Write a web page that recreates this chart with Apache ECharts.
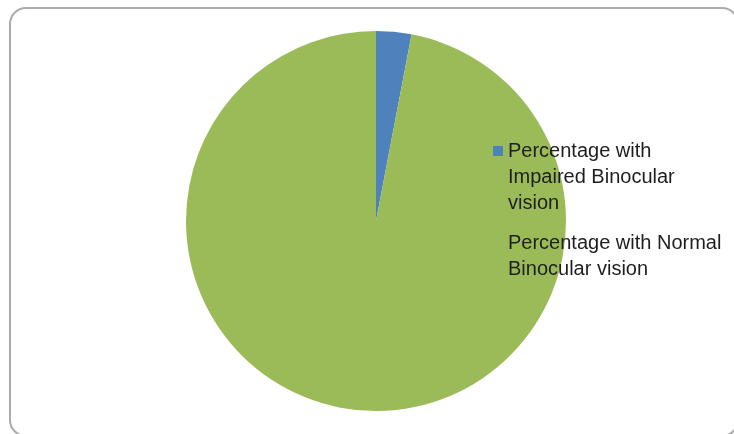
<!DOCTYPE html>
<html>
<head>
<meta charset="utf-8">
<script src="https://cdn.jsdelivr.net/npm/echarts@6/dist/echarts.min.js"></script>
<style>
  html, body { margin: 0; padding: 0; background: #ffffff; }
  #chart { width: 734px; height: 434px; }
</style>
</head>
<body>
<div id="chart"></div>
<script>
// Binocular vision survey: share of participants by outcome
const categories = [
  'Percentage with Impaired Binocular vision',
  'Percentage with Normal Binocular vision'
];
const values = [3, 97];
// Wrapped legend text, one entry per category
const legendLines = [
  ['Percentage with', 'Impaired Binocular', 'vision'],
  ['Percentage with Normal', 'Binocular vision']
];
const colors = ['#4f81bd', '#9bbb59'];

const LINE_H = 26;
const FONT = 'Liberation Sans';

// One legend per entry; blank leading lines keep the marker level with the first text line
function makeLegend(i, left, iconCenterY) {
  const n = legendLines[i].length;
  const lead = new Array(n - 1).fill('');
  const boxH = (2 * n - 1) * LINE_H;
  return {
    data: [categories[i]],
    orient: 'vertical',
    left: left,
    top: iconCenterY - boxH / 2,
    padding: 0,
    itemWidth: 10,
    itemHeight: 10,
    icon: 'rect',
    selectedMode: false,
    formatter: function () { return lead.concat(legendLines[i]).join('\n'); },
    textStyle: {
      fontFamily: FONT,
      fontSize: 20,
      color: '#1e1e1e',
      lineHeight: LINE_H
    }
  };
}

const chart = echarts.init(document.getElementById('chart'), null, { renderer: 'canvas' });
chart.setOption({
  animation: false,
  color: colors,
  graphic: [{
    type: 'rect',
    shape: { x: 10, y: 8, width: 728, height: 428, r: 16 },
    style: { fill: 'none', stroke: '#ababab', lineWidth: 2 },
    z: -10
  }],
  legend: [
    makeLegend(0, 493, 151),
    makeLegend(1, 493, 243)
  ],
  series: [{
    type: 'pie',
    center: [376, 221],
    radius: [0, 190],
    startAngle: 90,
    clockwise: true,
    label: { show: false },
    labelLine: { show: false },
    itemStyle: { borderWidth: 0 },
    emphasis: { disabled: true },
    data: categories.map((name, i) => ({ name: name, value: values[i] }))
  }]
});
</script>
</body>
</html>
